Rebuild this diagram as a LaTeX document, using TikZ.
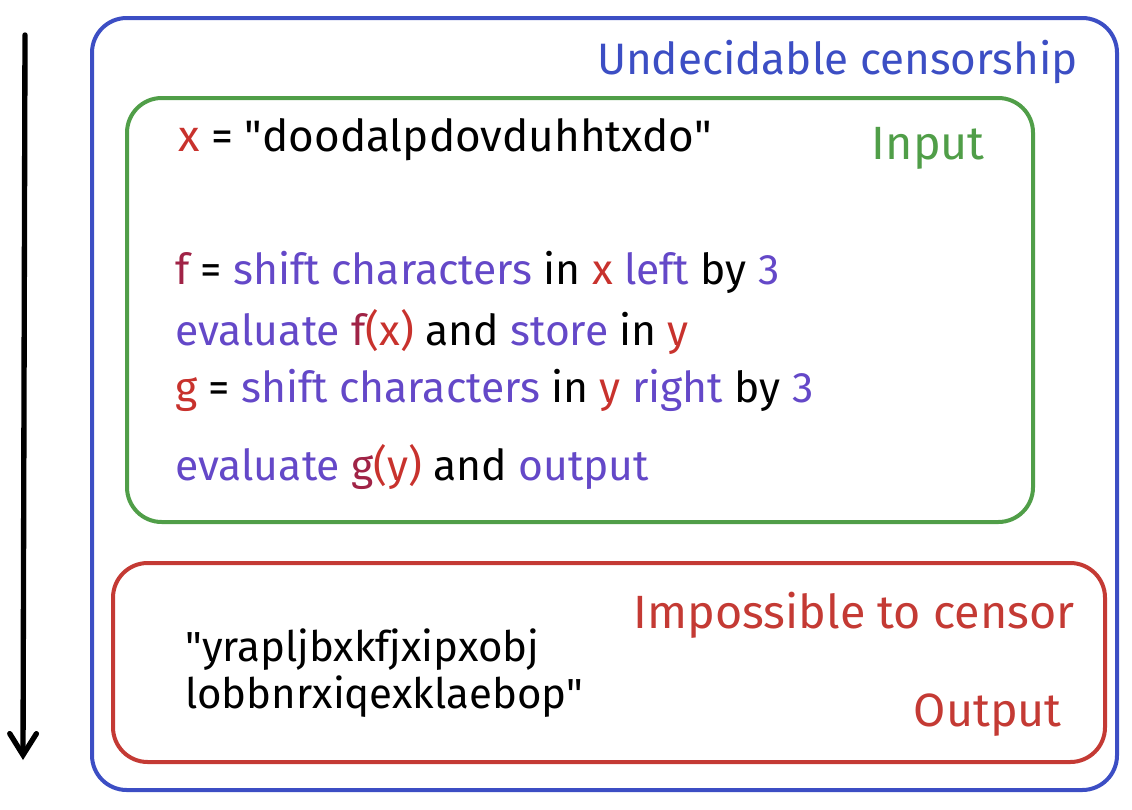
\documentclass[tikz,border=0pt]{standalone}
\usepackage{fontspec}
\setmainfont{Fira Sans}
\usepackage{xcolor}
\definecolor{sketchblue}{RGB}{60,78,196}
\definecolor{sketchgreen}{RGB}{80,158,72}
\definecolor{sketchred}{RGB}{196,58,52}
\definecolor{inkviolet}{RGB}{100,72,200}
\definecolor{inkred}{RGB}{200,50,45}
\definecolor{inkmaroon}{RGB}{160,35,70}
\usetikzlibrary{positioning,arrows.meta}
\newcommand{\vi}[1]{\textcolor{inkviolet}{#1}}
\newcommand{\rd}[1]{\textcolor{inkred}{#1}}
\newcommand{\mr}[1]{\textcolor{inkmaroon}{#1}}
\newcommand{\qt}{\textquotedbl}
\begin{document}
\begin{tikzpicture}[x=0.75pt,y=-0.75pt,
    sketchbox/.style={line width=3pt,rounded corners=26pt},
    boxtitle/.style={font=\fontsize{35}{40}\selectfont,anchor=east,inner sep=0pt},
    codeline/.style={font=\fontsize{32}{36}\selectfont,anchor=west,inner sep=0pt},
    bigline/.style={font=\fontsize{33}{38}\selectfont,anchor=west,inner sep=0pt},
    resultline/.style={font=\fontsize{31.5}{35}\selectfont,anchor=west,inner sep=0pt,align=left}]
  \useasboundingbox (0,0) rectangle (1132,810);
  % Rahmen
  \draw[sketchbox,sketchblue] (92,18) rectangle (1117,790);
  \draw[sketchbox,sketchgreen] (127,98) rectangle (1033,522);
  \draw[sketchbox,sketchred] (113,563) rectangle (1105,762);
  % Zeitachse
  \coordinate (tstart) at (25,35);
  \coordinate (tend) at (23,760);
  \draw[line width=4pt,line cap=round,-{Straight Barb[length=16pt,width=20pt,line cap=round]}] (tstart) -- (tend);
  % Beschriftungen
  \node[boxtitle,text=sketchblue,font=\fontsize{33}{38}\selectfont] (undecidable) at (1078,62) {Undecidable censorship};
  \node[boxtitle,text=sketchgreen] (inputlbl) at (985,148) {Input};
  \node[boxtitle,text=sketchred] (impossible) at (1075,615) {Impossible to censor};
  \node[boxtitle,text=sketchred] (outputlbl) at (1062,715) {Output};
  % Programm
  \node[bigline] (xdef) at (178,140) {\rd{x} = \qt doodalpdovduhhtxdo\qt};
  \node[codeline] (fdef) at (175,272) {\mr{f} = \vi{shift characters} in \rd{x} \vi{left} by \vi{3}};
  \node[codeline] (feval) at (175,332) {\vi{evaluate} \mr{f}\rd{(x)} and \vi{store} in \rd{y}};
  \node[codeline] (gdef) at (175,390) {\rd{g} = \vi{shift characters} in \rd{y} \vi{right} by \vi{3}};
  \node[codeline] (geval) at (175,467) {\vi{evaluate} \mr{g}\rd{(y)} and \vi{output}};
  \node[resultline] (result) at (185,673) {\qt yrapljbxkfjxipxobj\\lobbnrxiqexklaebop\qt};
\end{tikzpicture}
\end{document}
